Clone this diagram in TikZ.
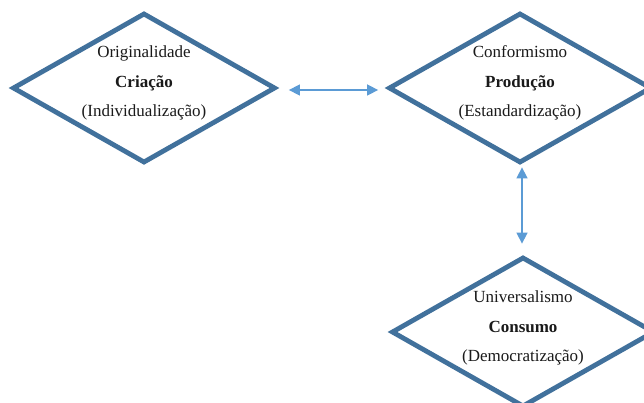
\documentclass[tikz,border=0pt]{standalone}
\usepackage{fontspec}
\setmainfont{Liberation Serif}
\usetikzlibrary{shapes.geometric,arrows.meta}
\definecolor{rimblue}{HTML}{41719C}
\definecolor{linkblue}{HTML}{5B9BD5}
\definecolor{inkgray}{HTML}{1A1A1A}
\tikzset{
  dia/.style={diamond, draw=rimblue, line width=4.8pt, line join=miter,
    fill=white, inner sep=0pt, minimum width=263pt, minimum height=150pt},
  txt/.style={align=center, text=inkgray, inner sep=0pt,
    font=\fontsize{17}{29.5}\selectfont},
  link/.style={draw=linkblue, line width=1.5pt,
    {Triangle[length=11pt,width=11pt]}-{Triangle[length=11pt,width=11pt]}}
}
\begin{document}
\begin{tikzpicture}[x=1pt,y=-1pt]
  \useasboundingbox (0,0) rectangle (644,403);
  \clip (0,0) rectangle (644,403);
  \fill[white] (0,0) rectangle (644,403);

  % the three concepts
  \node[dia, label={[txt, yshift=5pt]center:{Originalidade\\\textbf{Criação}\\(Individualização)}}]
    (criacao) at (144,88) {};
  \node[dia, label={[txt, yshift=5pt]center:{Conformismo\\\textbf{Produção}\\(Estandardização)}}]
    (producao) at (520,88) {};
  \node[dia, label={[txt, yshift=4pt]center:{Universalismo\\\textbf{Consumo}\\(Democratização)}}]
    (consumo) at (523,332) {};

  % two-way links between them
  \draw[link, shorten <=11pt, shorten >=8pt]
    ([yshift=-2pt]criacao.east) -- ([yshift=-2pt]producao.west);
  \draw[link, shorten <=2pt, shorten >=11pt]
    ([xshift=2pt]producao.south) -- ([xshift=-1pt]consumo.north);
\end{tikzpicture}
\end{document}
